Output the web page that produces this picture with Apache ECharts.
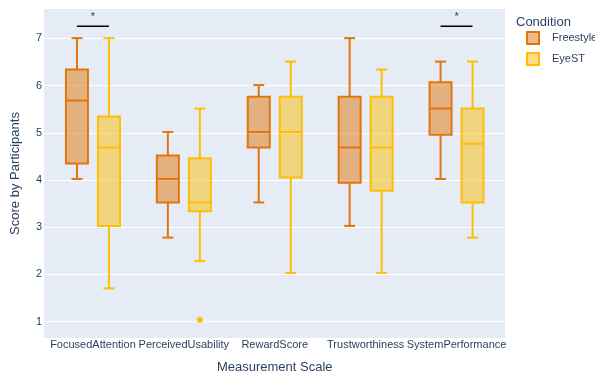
<!DOCTYPE html>
<html>
<head>
<meta charset="utf-8">
<script src="https://cdn.jsdelivr.net/npm/echarts@6/dist/echarts.min.js"></script>
<style>
  html, body { margin: 0; padding: 0; background: #ffffff; }
  #chart { width: 595px; height: 379px; }
</style>
</head>
<body>
<div id="chart"></div>
<script>
// ---- data ----
var categories = ['FocusedAttention', 'PerceivedUsability', 'RewardScore', 'Trustworthiness', 'SystemPerformance'];
var seriesNames = ['Freestyle', 'EyeST'];

var freestyleMin    = [4.00, 2.75, 3.50, 3.00, 4.00];
var freestyleQ1     = [4.33, 3.50, 4.67, 3.92, 4.94];
var freestyleMedian = [5.67, 4.00, 5.00, 4.67, 5.50];
var freestyleQ3     = [6.33, 4.50, 5.75, 5.75, 6.06];
var freestyleMax    = [7.00, 5.00, 6.00, 7.00, 6.50];

var eyestMin    = [1.67, 2.25, 2.00, 2.00, 2.75];
var eyestQ1     = [3.00, 3.31, 4.03, 3.75, 3.50];
var eyestMedian = [4.67, 3.50, 5.00, 4.67, 4.75];
var eyestQ3     = [5.33, 4.44, 5.75, 5.75, 5.50];
var eyestMax    = [7.00, 5.50, 6.50, 6.33, 6.50];

var eyestOutlierCategory = ['PerceivedUsability'];
var eyestOutlierValue    = [1];

var significantCategories = ['FocusedAttention', 'SystemPerformance'];
var significanceLabel = '*';
var significanceLineValue = 7.255;
var significanceStarValue = 7.49;

var yTickMin = 0.655, yTickMax = 7.62;

// ---- styling ----
var FONT = 'Liberation Sans, Arial, sans-serif';
var TXT = '#2a3f5f';
var colFree = 'rgb(226,118,10)';
var fillFree = 'rgba(226,118,10,0.5)';
var colEye = 'rgb(253,190,5)';
var fillEye = 'rgba(253,190,5,0.5)';
var OFFSET = 0.176;   // fraction of band
var BOXW = 0.242;     // fraction of band

function buildBoxData(mn, q1, md, q3, mx) {
  return categories.map(function (c, i) { return [i, mn[i], q1[i], md[i], q3[i], mx[i]]; });
}

function boxRenderer(offsetFrac, stroke, fill) {
  return function (params, api) {
    var cat = api.value(0);
    var band = api.size([1, 0])[0];
    var cx = api.coord([cat, 0])[0] + offsetFrac * band;
    var hw = BOXW * band / 2;
    var yMin = api.coord([cat, api.value(1)])[1];
    var yQ1 = api.coord([cat, api.value(2)])[1];
    var yMed = api.coord([cat, api.value(3)])[1];
    var yQ3 = api.coord([cat, api.value(4)])[1];
    var yMax = api.coord([cat, api.value(5)])[1];
    var ls = { stroke: stroke, lineWidth: 2, fill: null };
    return {
      type: 'group',
      children: [
        { type: 'line', shape: { x1: cx, y1: yQ3, x2: cx, y2: yMax }, style: ls },
        { type: 'line', shape: { x1: cx, y1: yQ1, x2: cx, y2: yMin }, style: ls },
        { type: 'line', shape: { x1: cx - hw / 2, y1: yMax, x2: cx + hw / 2, y2: yMax }, style: ls },
        { type: 'line', shape: { x1: cx - hw / 2, y1: yMin, x2: cx + hw / 2, y2: yMin }, style: ls },
        { type: 'rect', shape: { x: cx - hw, y: yQ3, width: 2 * hw, height: yQ1 - yQ3 },
          style: { fill: fill, stroke: stroke, lineWidth: 2 } },
        { type: 'line', shape: { x1: cx - hw, y1: yMed, x2: cx + hw, y2: yMed }, style: ls }
      ]
    };
  };
}

var chart = echarts.init(document.getElementById('chart'), null, { renderer: 'canvas' });

var option = {
  backgroundColor: '#ffffff',
  animation: false,
  textStyle: { fontFamily: FONT },
  title: {
    text: 'Condition', left: 516, top: 16, padding: 0,
    textStyle: { fontFamily: FONT, fontSize: 13, fontWeight: 'normal', color: TXT }
  },
  legend: {
    orient: 'vertical', left: 526, top: 31, padding: 0,
    itemWidth: 12, itemHeight: 12, itemGap: 7,
    textStyle: { fontFamily: FONT, fontSize: 11, color: TXT, padding: [0, 0, 0, 8] },
    data: [
      { name: 'Freestyle', icon: 'rect', itemStyle: { color: fillFree, borderColor: colFree, borderWidth: 2 } },
      { name: 'EyeST', icon: 'rect', itemStyle: { color: fillEye, borderColor: colEye, borderWidth: 2 } }
    ]
  },
  grid: [
    { left: 44, right: 90, top: 9, bottom: 41, show: true, backgroundColor: '#E5ECF6', borderWidth: 0 },
    { left: 47.5, right: 93, top: 9, bottom: 41 }
  ],
  xAxis: [
    { gridIndex: 0, type: 'value', min: 0, max: 1, show: false },
    {
      gridIndex: 1, type: 'category', data: categories,
      axisLine: { show: false }, axisTick: { show: false }, splitLine: { show: false },
      axisLabel: { color: TXT, fontSize: 11, fontFamily: FONT, margin: 3, interval: 0 },
      name: 'Measurement Scale', nameLocation: 'middle', nameGap: 25,
      nameTextStyle: { color: TXT, fontSize: 13, fontFamily: FONT }
    }
  ],
  yAxis: [
    {
      gridIndex: 0, type: 'value', min: yTickMin, max: yTickMax, splitNumber: 7,
      axisLine: { show: false }, axisTick: { show: false },
      axisLabel: { color: TXT, fontSize: 11, fontFamily: FONT, margin: 2, showMinLabel: false, showMaxLabel: false },
      splitLine: { show: true, showMinLine: false, showMaxLine: false, lineStyle: { color: '#ffffff', width: 1 } },
      name: 'Score by Participants', nameLocation: 'middle', nameGap: 22,
      nameTextStyle: { color: TXT, fontSize: 13, fontFamily: FONT }
    },
    { gridIndex: 1, type: 'value', min: yTickMin, max: yTickMax, show: false }
  ],
  series: [
    {
      name: 'Freestyle', type: 'custom', xAxisIndex: 1, yAxisIndex: 1,
      itemStyle: { color: fillFree, borderColor: colFree },
      encode: { x: 0, y: [1, 2, 3, 4, 5] },
      data: buildBoxData(freestyleMin, freestyleQ1, freestyleMedian, freestyleQ3, freestyleMax),
      renderItem: boxRenderer(-OFFSET, colFree, fillFree)
    },
    {
      name: 'EyeST', type: 'custom', xAxisIndex: 1, yAxisIndex: 1,
      itemStyle: { color: fillEye, borderColor: colEye },
      encode: { x: 0, y: [1, 2, 3, 4, 5] },
      data: buildBoxData(eyestMin, eyestQ1, eyestMedian, eyestQ3, eyestMax),
      renderItem: boxRenderer(OFFSET, colEye, fillEye)
    },
    {
      name: 'EyeST', type: 'custom', xAxisIndex: 1, yAxisIndex: 1,
      encode: { x: 0, y: 1 },
      data: eyestOutlierCategory.map(function (c, i) { return [categories.indexOf(c), eyestOutlierValue[i]]; }),
      renderItem: function (params, api) {
        var band = api.size([1, 0])[0];
        var p = api.coord([api.value(0), api.value(1)]);
        return { type: 'circle', shape: { cx: p[0] + OFFSET * band, cy: p[1], r: 3 }, style: { fill: colEye } };
      }
    },
    {
      name: 'significance', type: 'custom', xAxisIndex: 1, yAxisIndex: 1, silent: true,
      encode: { x: 0, y: [1, 2] },
      data: significantCategories.map(function (c) { return [categories.indexOf(c), significanceLineValue, significanceStarValue]; }),
      renderItem: function (params, api) {
        var band = api.size([1, 0])[0];
        var cat = api.value(0);
        var cx = api.coord([cat, 0])[0];
        var yl = api.coord([cat, api.value(1)])[1];
        var ys = api.coord([cat, api.value(2)])[1];
        return {
          type: 'group',
          children: [
            { type: 'line', shape: { x1: cx - OFFSET * band, y1: yl, x2: cx + OFFSET * band, y2: yl },
              style: { stroke: '#000000', lineWidth: 1.5 } },
            { type: 'text', x: cx, y: ys + 2,
              style: { text: significanceLabel, fill: TXT, font: '11px ' + FONT, align: 'center', verticalAlign: 'middle' } }
          ]
        };
      }
    }
  ]
};
chart.setOption(option);
</script>
</body>
</html>
